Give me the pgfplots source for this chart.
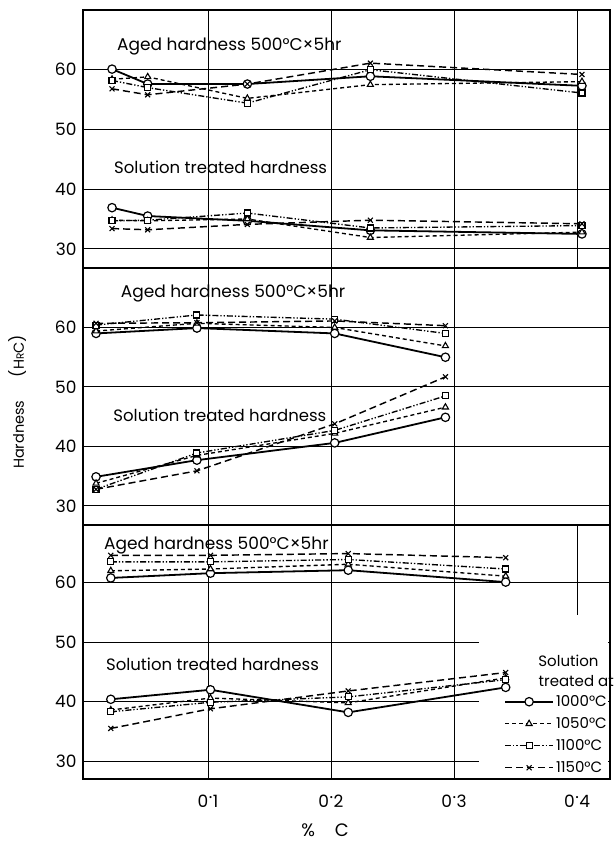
\documentclass[border=0pt]{standalone}
\usepackage{fontspec}
\setmainfont{Poppins}
\usepackage{pgfplots}
\pgfplotsset{compat=1.18}
\newcommand{\dd}[1]{0\kern0.5pt\raisebox{0.48em}{.}\kern0.5pt#1}
\tikzset{lbl/.style={anchor=west, font=\fontsize{16.5}{19}\selectfont, inner sep=0pt},
  albl/.style={anchor=west, font=\fontsize{17}{19}\selectfont, inner sep=0pt}}
\begin{document}
\begin{tikzpicture}
\useasboundingbox (0pt,0pt) rectangle (613pt,842pt);
\pgfplotsset{
  panel/.style={scale only axis, width=527pt, xmin=-0.0016, xmax=0.4268,
    ymin=26.8, ymax=70, ytick={30,40,50,60}, xtick={0.1,0.2,0.3,0.4},
    grid=major, grid style={black, line width=0.95pt},
    axis line style={line width=1.6pt}, major tick length=0pt,
    xticklabels={}, tick label style={font=\fontsize{17}{20}\selectfont},
    yticklabel style={xshift=-3pt},
    xticklabel style={yshift=-12pt},
    /pgf/number format/assume math mode=true, clip=false, anchor=north west},
  sA/.style={black, line width=1.8pt, mark=*, mark size=4.2pt, mark options={solid, fill=white, line width=1.2pt}},
  sB/.style={black, line width=1.35pt, dash pattern=on 4pt off 3pt, mark=triangle*, mark size=3.5pt, mark options={solid, fill=white, line width=1.1pt}},
  sC/.style={black, line width=1.35pt, dash pattern=on 6pt off 2pt on 1.3pt off 2pt on 1.3pt off 2pt, mark=square*, mark size=3pt, mark options={solid, fill=white, line width=1.1pt}},
  sD/.style={black, line width=1.45pt, dash pattern=on 7pt off 4pt, mark=x, mark size=3.5pt, mark options={solid, line width=1.1pt}},
}
% ---------- Panel 1 ----------
\begin{axis}[panel, at={(83pt,832pt)}, height=258pt]
\node[albl] at (axis cs:0.026,63.9) {Aged hardness 500°C×5hr};
\node[lbl] at (axis cs:0.0236,43.7) {Solution treated hardness};
\addplot[sA] coordinates {(0.022,60.1) (0.051,57.6) (0.132,57.6) (0.232,58.9) (0.404,57.3)};
\addplot[sB] coordinates {(0.022,58.4) (0.051,58.8) (0.132,55.2) (0.232,57.5) (0.404,58.0)};
\addplot[sC] coordinates {(0.022,58.2) (0.051,57.0) (0.132,54.4) (0.232,60.0) (0.404,56.1)};
\addplot[sD] coordinates {(0.022,56.8) (0.051,55.8) (0.132,57.6) (0.232,61.1) (0.404,59.2)};
\addplot[sA] coordinates {(0.022,36.9) (0.051,35.5) (0.132,34.7) (0.232,33.1) (0.404,32.5)};
\addplot[sB] coordinates {(0.022,34.8) (0.051,34.7) (0.132,35.0) (0.232,31.9) (0.404,32.8)};
\addplot[sC] coordinates {(0.022,34.7) (0.051,34.8) (0.132,36.0) (0.232,33.5) (0.404,33.9)};
\addplot[sD] coordinates {(0.022,33.4) (0.051,33.2) (0.132,34.1) (0.232,34.8) (0.404,34.2)};
\end{axis}
% ---------- Panel 2 ----------
\begin{axis}[panel, at={(83pt,574pt)}, height=257pt, xtick={0.1,0.2,0.3}]
\node[albl] at (axis cs:0.029,65.7) {Aged hardness 500°C×5hr};
\node[lbl] at (axis cs:0.023,45.2) {Solution treated hardness};
\addplot[sA] coordinates {(0.009,59.0) (0.091,59.9) (0.203,59.0) (0.293,55.0)};
\addplot[sB] coordinates {(0.009,59.4) (0.091,60.7) (0.203,60.0) (0.293,56.9)};
\addplot[sC] coordinates {(0.009,60.4) (0.091,62.1) (0.203,61.4) (0.293,59.0)};
\addplot[sD] coordinates {(0.009,60.7) (0.091,60.8) (0.203,61.1) (0.293,60.3)};
\addplot[sA] coordinates {(0.009,34.9) (0.091,37.7) (0.203,40.6) (0.293,44.9)};
\addplot[sB] coordinates {(0.009,33.8) (0.091,38.5) (0.203,42.2) (0.293,46.6)};
\addplot[sC] coordinates {(0.009,32.8) (0.091,38.9) (0.203,42.7) (0.293,48.5)};
\addplot[sD] coordinates {(0.009,32.8) (0.091,35.9) (0.203,43.8) (0.293,51.7)};
\end{axis}
% ---------- Panel 3 ----------
\begin{axis}[panel, at={(83pt,317pt)}, height=254pt, ymin=27, ymax=69.7,
  xticklabels={\dd1,\dd2,\dd3,\dd4},
  legend style={at={(axis cs:0.4268,27.3)}, anchor=south east, draw=none, fill=none,
    font=\fontsize{15}{17}\selectfont, row sep=5.5pt, inner sep=1pt, cells={anchor=west}},
  legend image code/.code={\draw[mark repeat=2,mark phase=2,#1] plot coordinates {(0pt,0pt) (24pt,0pt) (48pt,0pt)};}]
\fill[white] (axis cs:0.32,27.2) rectangle (axis cs:0.4255,54.6);
\node[albl] at (axis cs:0.0155,66.3) {Aged hardness 500°C×5hr};
\node[lbl] at (axis cs:0.017,46.2) {Solution treated hardness};
\node[anchor=center, font=\fontsize{15}{17}\selectfont, inner sep=0pt] at (axis cs:0.393,46.9) {Solution};
\node[anchor=east, font=\fontsize{15}{17}\selectfont, inner sep=0pt] at (axis cs:0.4300,43.5) {treated at};
\addplot[sA] coordinates {(0.021,60.8) (0.102,61.6) (0.214,62.1) (0.342,60.1)};
\addlegendentry{1000°C}
\addplot[sB] coordinates {(0.021,62.0) (0.102,62.3) (0.214,63.1) (0.342,61.1)};
\addlegendentry{1050°C}
\addplot[sC] coordinates {(0.021,63.5) (0.102,63.5) (0.214,63.9) (0.342,62.3)};
\addlegendentry{1100°C}
\addplot[sD] coordinates {(0.021,64.6) (0.102,64.6) (0.214,64.9) (0.342,64.2)};
\addlegendentry{1150°C}
\addplot[sA, forget plot] coordinates {(0.021,40.4) (0.102,42.0) (0.214,38.2) (0.342,42.4)};
\addplot[sB, forget plot] coordinates {(0.021,38.6) (0.102,40.6) (0.214,39.8) (0.342,44.0)};
\addplot[sC, forget plot] coordinates {(0.021,38.3) (0.102,39.9) (0.214,40.8) (0.342,43.7)};
\addplot[sD, forget plot] coordinates {(0.021,35.5) (0.102,38.8) (0.214,41.8) (0.342,44.9)};
\end{axis}
\node[font=\fontsize{18}{20}\selectfont] at (325pt,12pt) {\%\hspace{1.1em}C};
\node[rotate=90, font=\fontsize{14.5}{17}\selectfont] at (18pt,440pt) {Hardness\hspace{1.6em}{\fontsize{16}{17}\selectfont(}H{\fontsize{10.5}{12}\selectfont R}C{\fontsize{16}{17}\selectfont)}};
\end{tikzpicture}
\end{document}
